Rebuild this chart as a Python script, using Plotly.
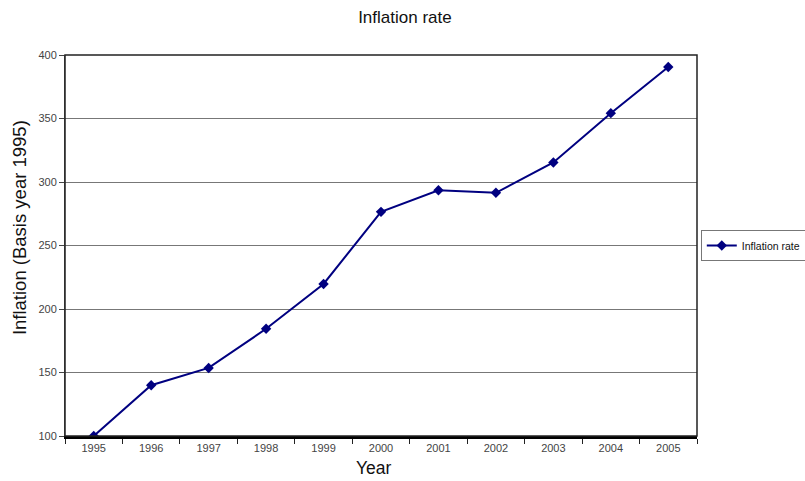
import plotly.graph_objects as go

years = ["1995", "1996", "1997", "1998", "1999", "2000",
         "2001", "2002", "2003", "2004", "2005"]
inflation = [100, 140, 153.6, 184.4, 219.7, 276.5, 293.5, 291.5, 315.4, 354.2, 390.5]
y_ticks = [100, 150, 200, 250, 300, 350, 400]

FONT = "Liberation Sans, Arial, sans-serif"

fig = go.Figure()
fig.add_trace(go.Scatter(
    x=years, y=inflation, mode="lines+markers", name="Inflation rate",
    line=dict(color="#000080", width=2),
    marker=dict(symbol="diamond", size=8, color="#000080"),
))

fig.update_layout(
    width=805, height=481,
    margin=dict(l=65, r=108, t=55, b=45, autoexpand=False),
    paper_bgcolor="white", plot_bgcolor="white",
    font=dict(family=FONT, color="#222"),
    title=dict(text="Inflation rate", x=0.503, xanchor="center", y=0.965,
               yanchor="middle", font=dict(size=17, color="#111")),
    showlegend=True,
    legend=dict(x=1.006, xanchor="left", y=0.5, yanchor="middle",
                bordercolor="#777", borderwidth=1, bgcolor="white",
                itemwidth=30, font=dict(size=10.5, color="#111"),
                tracegroupgap=0),
    shapes=[dict(type="rect", xref="paper", yref="paper", x0=0, x1=1, y0=0, y1=1,
                 line=dict(color="#222", width=1.5), layer="above")],
    annotations=[
        # axis titles placed as annotations for finer positioning
        dict(text="Inflation (Basis year 1995)", textangle=-90, showarrow=False,
             xref="paper", yref="paper", x=-0.071, y=0.546,
             xanchor="center", yanchor="middle",
             font=dict(size=18.5, color="#111")),
        dict(text="Year", showarrow=False, xref="paper", yref="paper",
             x=0.489, y=-0.084, xanchor="center", yanchor="middle",
             font=dict(size=17.5, color="#111")),
    ],
)

fig.update_xaxes(
    type="category", range=[-0.5, 10.5], tickson="boundaries",
    ticks="outside", ticklen=5, tickcolor="#222",
    showline=True, linecolor="#000", linewidth=2.5,
    showgrid=False, tickfont=dict(size=11, color="#444"),
)
fig.update_yaxes(
    range=[100, 400], tickvals=y_ticks,
    ticks="outside", ticklen=5, tickcolor="#444",
    showline=True, linecolor="#555", linewidth=1,
    showgrid=True, gridcolor="#777", gridwidth=1, zeroline=False,
    tickfont=dict(size=11, color="#444"),
)

fig.write_html("out.html")
